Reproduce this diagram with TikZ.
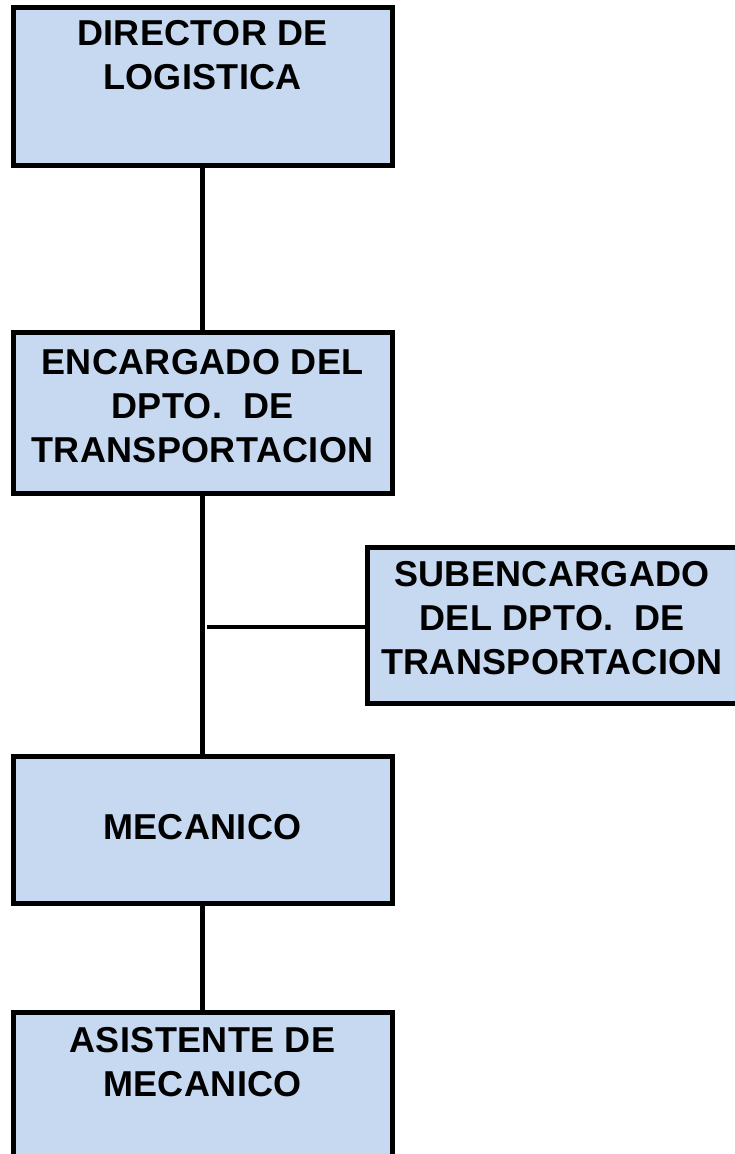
\documentclass[tikz,border=0pt]{standalone}
\usepackage{fontspec}
\setmainfont{Liberation Sans}
\definecolor{boxfill}{RGB}{198,217,241}
\begin{document}
\begin{tikzpicture}[x=1pt,y=-1pt,
  orgbox/.style={draw=black, line width=5pt, fill=boxfill, rectangle, inner sep=0pt, outer sep=0pt, anchor=north west},
  orgtext/.style={align=center, inner sep=0pt, anchor=center, font=\fontsize{36}{44}\selectfont\bfseries\addfontfeature{LetterSpace=1}},
  conn/.style={draw=black, line width=4.5pt}]
\useasboundingbox (0,0) rectangle (734,1154);
\fill[white] (0,0) rectangle (734,1154);
% boxes (empty shapes)
\path node[orgbox, minimum width=379pt, minimum height=158pt] (b1) at (13,7) {};
\path node[orgbox, minimum width=379pt, minimum height=161pt] (b2) at (13,332) {};
\path node[orgbox, minimum width=371pt, minimum height=156pt] (b3) at (367,547) {};
\path node[orgbox, minimum width=379pt, minimum height=147pt] (b4) at (13,756) {};
\path node[orgbox, minimum width=379pt, minimum height=160pt] (b5) at (13,1012) {};
% connectors
\coordinate (j) at (207,627);
\draw[conn] (b1.south) -- (b2.north);
\draw[conn] (b2.south) -- (b4.north);
\draw[conn] (b4.south) -- (b5.north);
\draw[conn] (j) -- (b3.west |- j);
% redraw box borders over connector ends
\foreach \b in {b1,b2,b3,b4,b5}{
  \draw[line width=5pt] (\b.north west) rectangle (\b.south east);
}
% texts
\node[orgtext] (t1) at (202.5,55.5) {DIRECTOR DE\\LOGISTICA};
\node[orgtext] (t2) at (202.5,406) {ENCARGADO DEL\\DPTO.\ \ DE\\TRANSPORTACION};
\node[orgtext] (t3) at (552,618.5) {SUBENCARGADO\\DEL DPTO.\ \ DE\\TRANSPORTACION};
\node[orgtext] (t4) at (202.5,827.5) {MECANICO};
\node[orgtext] (t5) at (202.5,1062.5) {ASISTENTE DE\\MECANICO};
\end{tikzpicture}
\end{document}
